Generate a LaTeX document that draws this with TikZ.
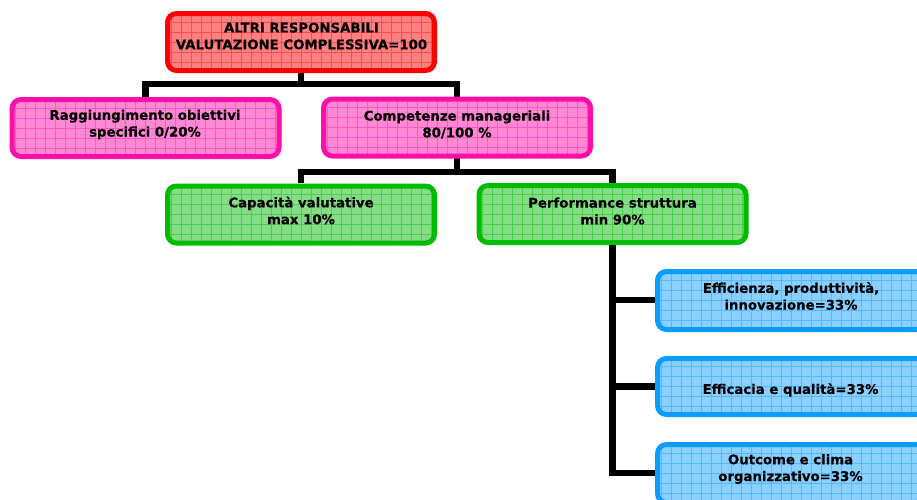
\documentclass[tikz,border=0pt]{standalone}
\usepackage{fontspec}
\setmainfont{DejaVu Sans}
\newfontfamily\boxfont{DejaVu Sans Bold}[FakeBold=0.35]
\begin{document}
\begin{tikzpicture}[x=1pt,y=-1pt,
  box/.style={rounded corners=9pt, line width=5pt, minimum width=267pt, minimum height=57pt, inner sep=0pt},
  gridbox/.style 2 args={box, draw=#1, fill=#2,
    path picture={\draw[#1!70!white, line width=0.9pt, step=10pt]
      (path picture bounding box.south west) grid (path picture bounding box.north east);}},
  redbox/.style={gridbox={red}{red!50!white}},
  pinkbox/.style={gridbox={pinkc}{pinkc!50!white}},
  greenbox/.style={gridbox={greenc}{greenc!48!white}},
  bluebox/.style={gridbox={bluec}{bluec!48!white}},
  lbl/.style={font=\boxfont\fontsize{13.3}{16.8}\selectfont, align=center, inner sep=0pt, text=black},
  conn/.style={line width=6.5pt, black}]
\definecolor{pinkc}{HTML}{FF0FAA}
\definecolor{greenc}{HTML}{00BB00}
\definecolor{bluec}{HTML}{0A9CFF}
\useasboundingbox (0,0) rectangle (917,499);
\clip (0,0) rectangle (917,499);
\fill[white] (0,0) rectangle (917,499);

% connectors first
\coordinate (j1) at (301,84);
\coordinate (j2) at (457,172);
\coordinate (P1t) at (145.5,97);
\coordinate (P2t) at (457,97);
\coordinate (G1t) at (301,183);
\coordinate (G2t) at (612.5,183);
\coordinate (Rb) at (301,73);
\coordinate (P2b) at (457,158);
\coordinate (G2b) at (612.5,245);
\coordinate (B1l) at (656,300);
\coordinate (B2l) at (656,386.5);
\coordinate (B3l) at (656,473);

\draw[conn] (Rb) -- (j1);
\draw[conn] (P1t) |- (j1) -| (P2t);
\draw[conn] (P2b) -- (j2);
\draw[conn] (G1t) |- (j2) -| (G2t);
\draw[conn] (G2b) |- (B3l);
\draw[conn] (G2b |- B1l) -- (B1l);
\draw[conn] (G2b |- B2l) -- (B2l);

% boxes
\node[redbox, minimum height=57pt] (R) at (301,42) {};
\node[pinkbox] (P1) at (145.5,128) {};
\node[pinkbox] (P2) at (457,127.5) {};
\node[greenbox] (G1) at (301,214.5) {};
\node[greenbox] (G2) at (612.5,214) {};
\node[bluebox, minimum height=58pt] (B1) at (791,300.5) {};
\node[bluebox, minimum height=56pt] (B2) at (791,386.5) {};
\node[bluebox, minimum height=58pt] (B3) at (791,473.5) {};

% labels
\node[lbl] (tR) at (301.5,36) {ALTRI RESPONSABILI\\VALUTAZIONE COMPLESSIVA=100};
\node[lbl] (tP1) at (145,124.5) {Raggiungimento obiettivi\\specifici 0/20\%};
\node[lbl] (tP2) at (457,124.5) {Competenze manageriali\\80/100 \%};
\node[lbl] (tG1) at (301,210.5) {Capacità valutative\\max 10\%};
\node[lbl] (tG2) at (612.5,211) {Performance struttura\\min 90\%};
\node[lbl] (tB1) at (791,296) {Efficienza, produttività,\\innovazione=33\%};
\node[lbl] (tB2) at (790.5,390) {Efficacia e qualità=33\%};
\node[lbl] (tB3) at (790.5,469) {Outcome e clima\\organizzativo=33\%};
\end{tikzpicture}
\end{document}
